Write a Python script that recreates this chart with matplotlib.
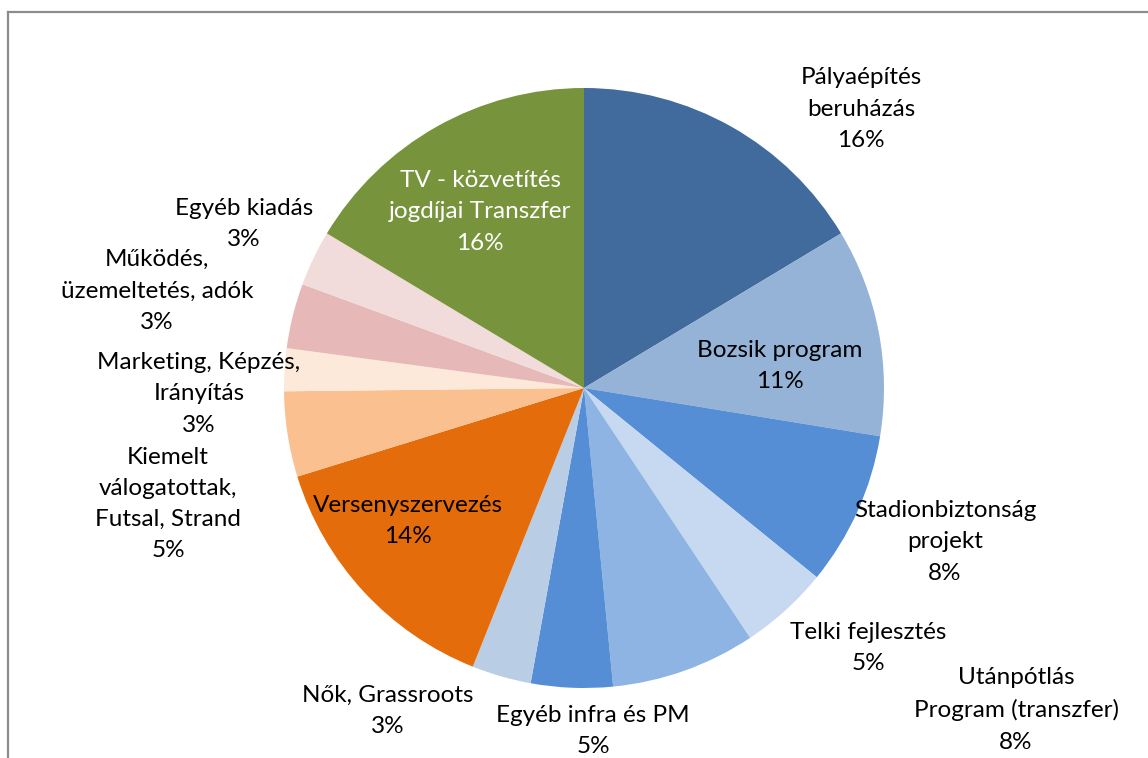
import matplotlib.pyplot as plt
from matplotlib.lines import Line2D

# data (share of budget, %), clockwise from 12 o'clock
categories = [
    "Pályaépítés\nberuházás",
    "Bozsik program",
    "Stadionbiztonság\nprojekt",
    "Telki fejlesztés",
    "Utánpótlás\nProgram (transzfer)",
    "Egyéb infra és PM",
    "Nők, Grassroots",
    "Versenyszervezés",
    "Kiemelt\nválogatottak,\nFutsal, Strand",
    "Marketing, Képzés,\nIrányítás",
    "Működés,\nüzemeltetés, adók",
    "Egyéb kiadás",
    "TV - közvetítés\njogdíjai Transzfer",
]
shares = [16.4, 11.2, 8.3, 4.8, 7.8, 4.4, 3.2, 14.2, 4.6, 2.3, 3.5, 3.0, 16.4]
pct_labels = ["16%", "11%", "8%", "5%", "8%", "5%", "3%", "14%", "5%", "3%", "3%", "3%", "16%"]

colors = ["#416b9c", "#95b3d7", "#558ed5", "#c6d9f1", "#8db4e2", "#558ed5",
          "#b9cde5", "#e46c0a", "#fac090", "#fde9d9", "#e6b9b8", "#f2dcdb",
          "#77933c"]

# label centres in pixels (x, y of top line) of the reference
label_px = [(861, 77), (780, 350), (945, 510), (868, 632), (1016, 678),
            (593, 715), (388, 695), (408, 505), (168, 456), (199, 362),
            (157, 259), (244, 208), (480, 180)]
text_colors = ["black"] * 12 + ["white"]

W, H = 1148, 758
cx, cy, R = 584, 388, 300

fig = plt.figure(figsize=(W / 100, H / 100), dpi=100)
ax = fig.add_axes([0, 0, 1, 1])

ax.pie(shares, colors=colors, startangle=90, counterclock=False, radius=1,
       center=(0, 0), wedgeprops=dict(linewidth=0))

# pie() resets the limits, so set them afterwards
ax.set_xlim(-cx / R, (W - cx) / R)
ax.set_ylim((cy - H) / R, cy / R)
ax.set_aspect("equal")
ax.axis("off")

line_h = 32
for name, pct, (px, py), tc in zip(categories, pct_labels, label_px, text_colors):
    n = name.count("\n") + 2
    mid_py = py + (n - 1) * line_h / 2
    ax.text((px - cx) / R, (cy - mid_py) / R, name + "\n" + pct,
            ha="center", va="center", fontsize=17.5, family="Lato",
            color=tc, linespacing=1.6)

# chart frame (cropped)
fig.add_artist(Line2D([8 / W, 8 / W], [0, 1 - 11.5 / H], color="#8c8c8c", lw=1.6,
                      transform=fig.transFigure))
fig.add_artist(Line2D([8 / W, 1], [1 - 11.5 / H, 1 - 11.5 / H], color="#8c8c8c", lw=1.6,
                      transform=fig.transFigure))

fig.savefig("out.png", dpi=100)
